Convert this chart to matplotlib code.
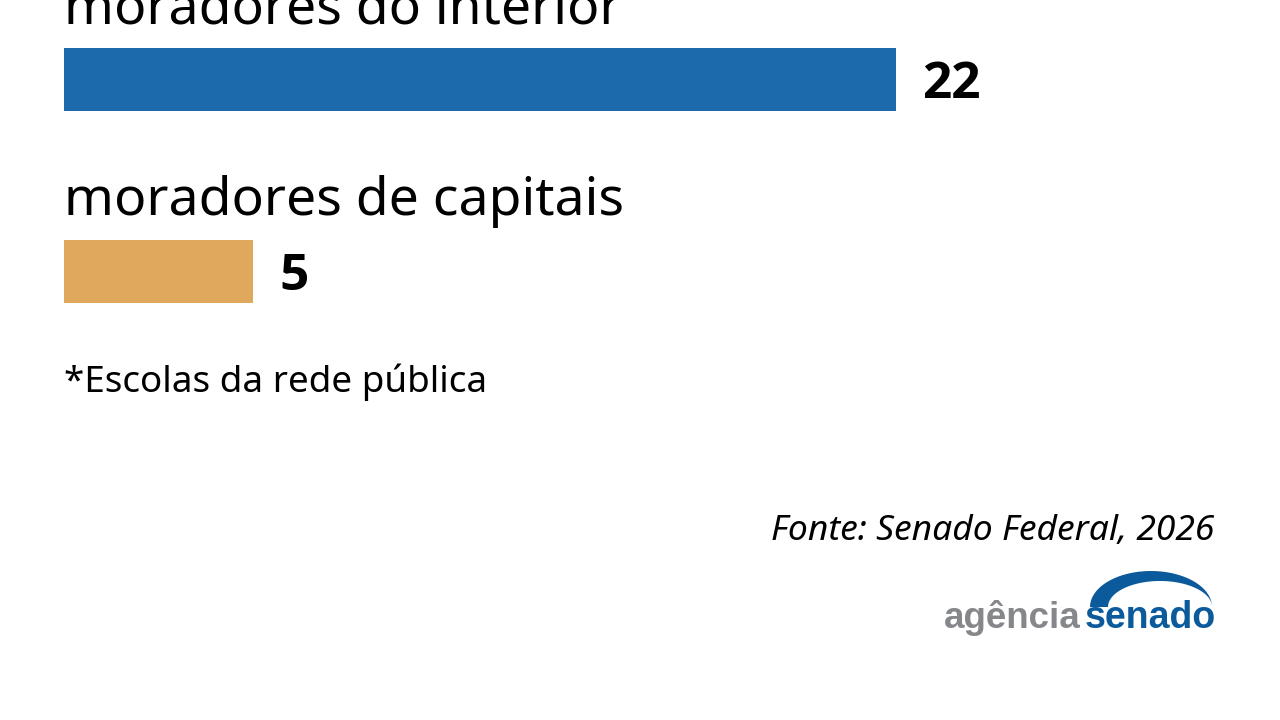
import matplotlib.pyplot as plt
import numpy as np
from matplotlib.patches import Polygon

# data
categories = ['moradores do interior', 'moradores de capitais']
values = [22, 5]
colors = ['#1c6aab', '#e0a85c']
footnote = '*Escolas da rede pública'
source = 'Fonte: Senado Federal, 2026'

fig = plt.figure(figsize=(12.8, 7.2), dpi=100)
ax = fig.add_axes([0, 0, 1, 1])

# pixel-like coordinates: 1 unit of value = 37.8 px, bars start at px 64
scale = 37.8
ax.set_xlim(-64 / scale, (1280 - 64) / scale)
ax.set_ylim(720, 0)
ax.axis('off')

bar_h = 63
for i, (cat, val, col) in enumerate(zip(categories, values, colors)):
    yc = 79.5 + i * 192
    ax.barh(yc, val, height=bar_h, color=col, left=0)
    ax.text(0, yc - bar_h / 2 - 25, cat, fontsize=38.5, family='Noto Sans',
            va='baseline', ha='left', color='black')
    ax.text(val + 26 / scale, yc + 19, str(val), fontsize=37, family='Open Sans',
            fontweight='bold', va='baseline', ha='left', color='black')

ax.text(0, 392, footnote, fontsize=26.5, family='Noto Sans', va='baseline', ha='left')
ax.text(1214 / scale - 64 / scale, 540, source, fontsize=25.5, family='Noto Sans',
        style='italic', va='baseline', ha='right')

# logo
fig.text(1081 / 1280, 1 - 628 / 720, 'agência', fontsize=26.5, family='Liberation Sans',
         fontweight='bold', color='#85878a', ha='right', va='baseline')
fig.text(1085 / 1280, 1 - 628 / 720, 'senado', fontsize=27, family='Liberation Sans',
         fontweight='bold', color='#0b5a9c', ha='left', va='baseline')

# arc of the logo (crescent)
t = np.linspace(0, np.pi, 80)
outer_x = 1151 + 61 * np.cos(t)
outer_y = 607 - 36 * np.sin(t)
inner_x = 1160 + 52 * np.cos(t[::-1])
inner_y = 607 - 26 * np.sin(t[::-1])
px = np.concatenate([outer_x, inner_x])
py = np.concatenate([outer_y, inner_y])
fig.patches.append(Polygon(np.column_stack([px / 1280, 1 - py / 720]), closed=True,
                           transform=fig.transFigure, color='#0b5a9c', lw=0))

fig.savefig('out.png', dpi=100, facecolor='white')
